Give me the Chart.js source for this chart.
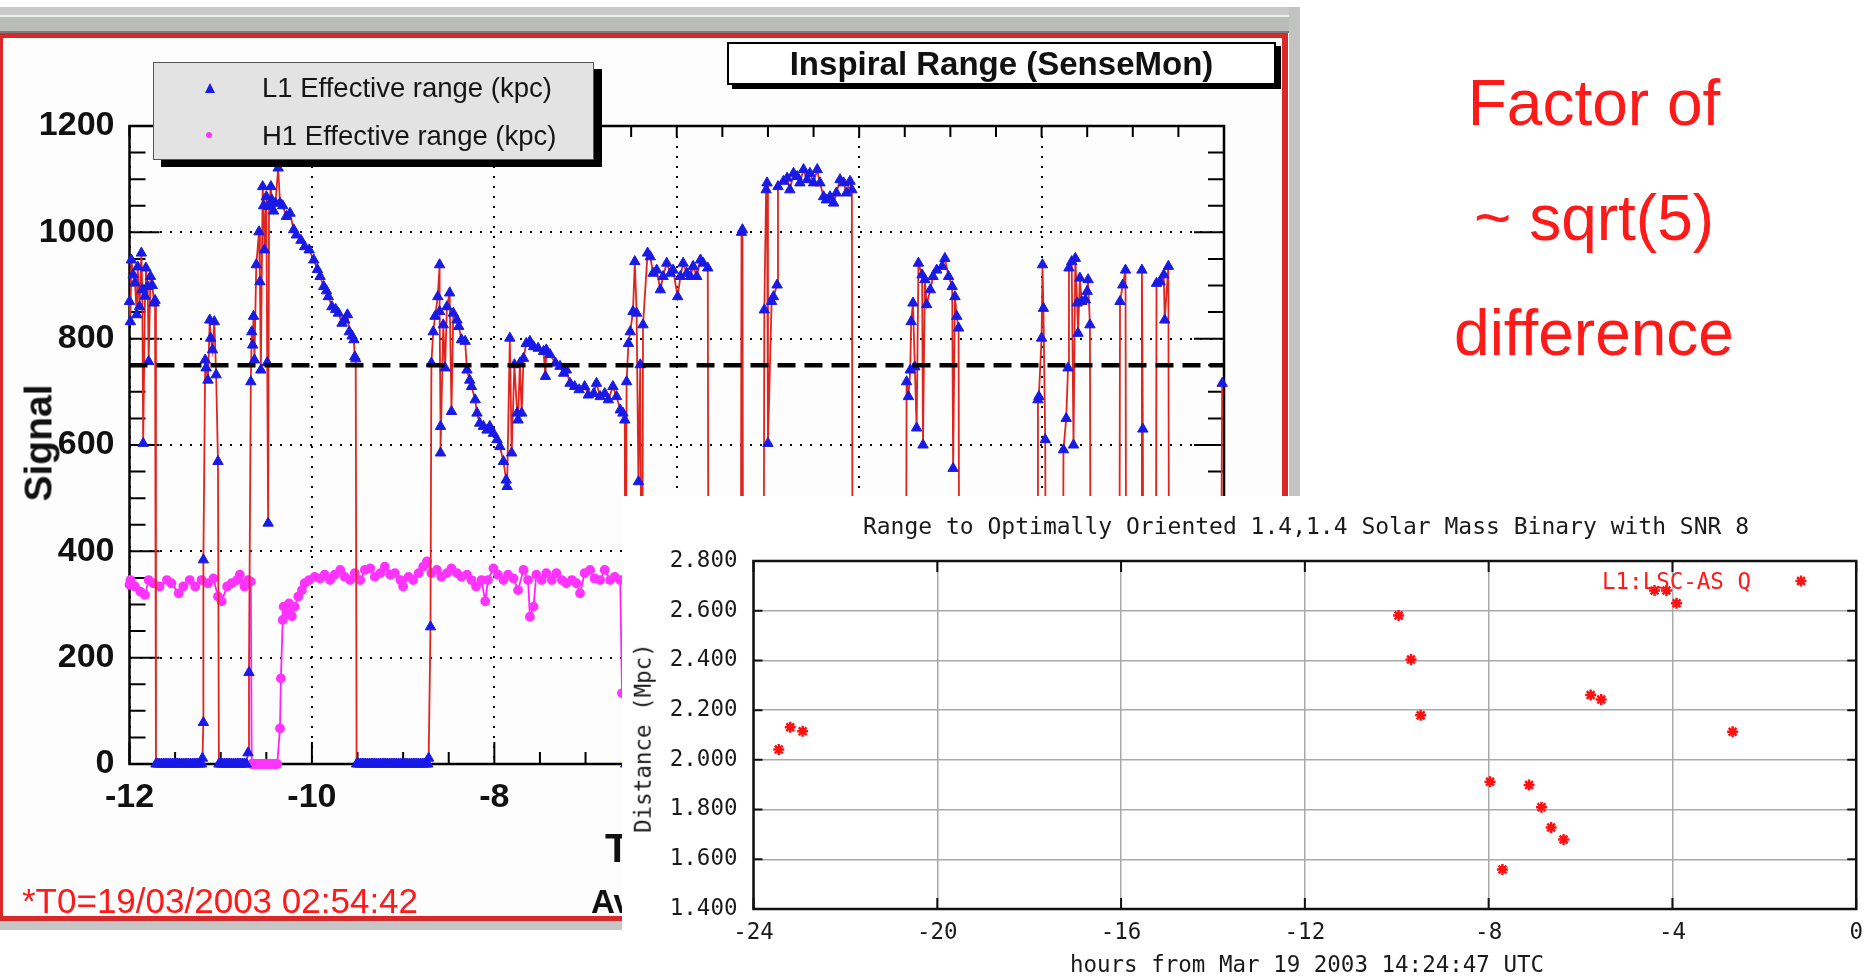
<!DOCTYPE html>
<html>
<head>
<meta charset="utf-8">
<script src="https://cdn.jsdelivr.net/npm/chart.js@4.4.1/dist/chart.umd.min.js"></script>
<style>
  body { margin:0; width:1874px; height:980px; background:#fff; overflow:hidden; position:relative;
         font-family:"Liberation Sans", Arial, sans-serif; }
  .abs { position:absolute; box-sizing:border-box; }
  .t { position:absolute; white-space:nowrap; line-height:1; }
  #topbar { left:0; top:7px; width:1300px; height:26px;
            background:linear-gradient(#c9c9c9 0 8px, #ececec 8px 10px, #babdba 10px 24px, #7a7a7a 24px 26px); }
  #frame { left:0; top:33px; width:1288px; height:888px; border-style:solid; border-color:#d8282a;
           border-width:5px 6px 5px 3px; background:#fdfdfd; }
  #rightbar { left:1289px; top:7px; width:11px; height:923px; background:#c3c3c3; }
  #bottombar { left:0; top:921px; width:1300px; height:9px; background:#c6c6c6; }
  #c1 { position:absolute; left:0; top:0; }
  #legend { left:153px; top:62px; width:441px; height:98px; border:1.5px solid #555; background:#e3e3e3;
            box-shadow:8px 7px 0 #000; }
  #legend .t { font-size:27.5px; color:#151515; }
  #tri { position:absolute; left:51px; top:20px; width:0; height:0; border-left:5.5px solid transparent;
         border-right:5.5px solid transparent; border-bottom:10px solid #1a1ae6; }
  #dot { position:absolute; left:52px; top:69px; width:6px; height:6px; border-radius:50%; background:#ff33ff; }
  #titlebox { left:727px; top:42px; width:549px; height:43px; border:2px solid #000; background:#fff;
              box-shadow:5px 4px 0 #000; display:flex; align-items:center; justify-content:center;
              font-weight:bold; font-size:33px; line-height:1; color:#111; }
  #inset { left:622px; top:496px; width:1252px; height:484px; background:#fff; }
  #c2 { position:absolute; left:0; top:0; }
  .mono { font-family:"DejaVu Sans Mono", "Liberation Mono", monospace; font-size:22.5px; color:#1a1a1a; }
  .note { font-size:64px; color:#ff1a1a; transform:translateX(-50%); left:1594px; }
</style>
</head>
<body>
<div id="topbar" class="abs"></div>
<div id="frame" class="abs"></div>
<div id="rightbar" class="abs"></div>
<div id="bottombar" class="abs"></div>
<canvas id="c1" width="1300" height="932"></canvas>

<div id="legend" class="abs">
  <div id="tri"></div>
  <div class="t" style="left:108px; top:11px;">L1 Effective range (kpc)</div>
  <div id="dot"></div>
  <div class="t" style="left:108px; top:59px;">H1 Effective range (kpc)</div>
</div>
<div id="titlebox" class="abs">Inspiral Range (SenseMon)</div>

<div class="t" style="left:38px; top:443px; font-size:39px; font-weight:bold; color:#111; transform:translate(-50%,-50%) rotate(-90deg);">Signal</div>
<div class="t" style="left:605px; top:828px; font-size:40px; font-weight:bold; color:#111;">Time</div>
<div class="t" style="left:591px; top:885px; font-size:33px; font-weight:bold; color:#111;">Average</div>
<div class="t" style="left:22px; top:883px; font-size:35px; color:#ff1a1a;">*T0=19/03/2003 02:54:42</div>

<div id="inset" class="abs">
  <canvas id="c2" width="1252" height="484"></canvas>
  <div class="t mono" style="left:684px; top:19px; font-size:23px; transform:translateX(-50%);">Range to Optimally Oriented 1.4,1.4 Solar Mass Binary with SNR 8</div>
  <div class="t mono" style="left:685px; top:457px; transform:translateX(-50%);">hours from Mar 19 2003 14:24:47 UTC</div>
  <div class="t mono" style="left:21px; top:242px; transform:translate(-50%,-50%) rotate(-90deg);">Distance (Mpc)</div>
  <div class="t mono" style="left:980px; top:74px; color:#ff1a1a;">L1:LSC-AS Q</div>
</div>

<div class="t note" style="top:71px;">Factor of</div>
<div class="t note" style="top:186px;">~ sqrt(5)</div>
<div class="t note" style="top:301px;">difference</div>

<script>
// ---- left plot: SenseMon inspiral range, hours relative to T0 ----
const l1Hours = [
  -12.00,-11.99,-11.98,-11.96,-11.94,-11.92,-11.91,-11.89,-11.87,-11.86,-11.85,-11.83,-11.82,-11.80,-11.79,-11.77,-11.75,-11.73,-11.72,
  -11.71,-11.69,-11.67,-11.65,-11.63,-11.61,-11.59,-11.57,-11.55,-11.53,-11.51,-11.49,-11.47,-11.45,-11.43,-11.41,-11.39,-11.37,-11.35,-11.33,-11.31,-11.29,-11.27,-11.25,-11.23,-11.21,
  -11.20,-11.19,-11.19,-11.17,-11.16,-11.14,-11.12,-11.11,-11.09,-11.07,-11.05,-11.03,
  -11.02,-11.00,-10.98,-10.96,-10.94,-10.92,-10.90,-10.88,-10.86,-10.84,-10.82,-10.80,-10.78,-10.76,-10.74,-10.72,
  -10.70,-10.69,-10.67,-10.66,-10.65,-10.64,-10.63,-10.61,-10.58,-10.57,
  -10.56,-10.54,-10.53,-10.52,-10.50,-10.49,-10.48,-10.47,-10.45,-10.44,
  -10.42,-10.40,-10.37,-10.35,-10.32,-10.28,-10.24,-10.20,-10.17,-10.12,
  -10.08,-10.03,-9.98,-9.94,-9.91,-9.87,-9.84,-9.82,-9.78,-9.74,
  -9.71,-9.67,-9.64,-9.61,-9.59,-9.56,-9.54,-9.53,-9.52,
  -9.51,-9.49,-9.47,-9.45,-9.43,-9.41,-9.39,-9.37,-9.35,-9.33,
  -9.31,-9.29,-9.27,-9.25,-9.23,-9.21,-9.19,-9.17,-9.15,-9.13,
  -9.11,-9.09,-9.07,-9.05,-9.03,-9.01,-8.99,-8.97,-8.95,-8.93,
  -8.91,-8.89,-8.87,-8.85,-8.83,-8.81,-8.79,-8.77,-8.75,-8.73,
  -8.72,-8.70,-8.69,-8.67,-8.65,-8.62,-8.60,-8.60,-8.59,-8.59,
  -8.56,-8.54,-8.52,-8.49,-8.47,-8.45,-8.41,-8.39,-8.36,-8.32,
  -8.30,-8.27,-8.25,-8.21,-8.19,-8.16,-8.12,-8.08,-8.05,-8.01,
  -7.97,-7.94,-7.90,-7.87,-7.86,-7.83,-7.81,-7.78,-7.75,-7.74,
  -7.72,-7.70,-7.68,-7.65,-7.61,-7.57,-7.52,-7.46,-7.44,-7.43,
  -7.39,-7.33,-7.28,-7.24,-7.21,-7.17,-7.12,-7.07,-7.01,-6.97,
  -6.91,-6.88,-6.84,-6.79,-6.75,-6.70,-6.66,-6.62,-6.59,-6.57,
  -6.56,-6.55,-6.53,-6.51,-6.48,-6.46,-6.44,-6.42,-6.40,-6.38,
  -6.37,-6.32,-6.29,-6.26,-6.22,-6.18,-6.15,-6.11,-6.07,-6.04,
  -5.99,-5.96,-5.93,-5.89,-5.85,-5.82,-5.78,-5.74,-5.71,-5.66,-5.65,
  -5.30,-5.29,-5.28,-5.27,
  -5.05,-5.04,-5.02,-5.01,-5.00,-4.96,-4.94,-4.90,-4.89,-4.83,
  -4.79,-4.76,-4.72,-4.68,-4.65,-4.61,-4.57,-4.54,-4.50,-4.46,
  -4.43,-4.39,-4.36,-4.32,-4.28,-4.25,-4.21,-4.17,-4.14,-4.10,-4.08,-4.07,
  -3.49,-3.48,-3.46,-3.44,-3.43,-3.41,-3.39,-3.37,-3.35,-3.31,
  -3.30,-3.28,-3.26,-3.22,-3.19,-3.15,-3.09,-3.06,-3.02,-2.98,
  -2.97,-2.95,-2.93,-2.91,-2.90,
  -2.05,-2.04,-2.03,-2.00,-1.99,-1.98,-1.96,-1.95,
  -1.77,-1.76,-1.73,-1.71,-1.70,-1.67,-1.65,-1.63,-1.61,-1.60,
  -1.58,-1.56,-1.52,-1.50,-1.49,-1.47,-1.46,
  -1.15,-1.14,-1.11,-1.08,-1.07,
  -0.91,-0.90,-0.89,-0.88,
  -0.75,-0.74,-0.70,-0.66,-0.65,-0.61,-0.60,
  -0.04,-0.02
];
const l1Range = [
  870,832,948,920,905,845,935,860,961,892,603,880,933,898,757,917,900,867,872,
  0,0,0,0,0,0,0,0,0,0,0,0,0,0,0,0,0,0,0,0,0,0,0,0,0,0,
  11,78,384,760,745,722,835,801,779,832,732,569,
  0,0,0,0,0,0,0,0,0,0,0,0,0,0,0,0,
  21,172,719,813,788,842,760,939,1001,907,
  741,1086,1050,967,1067,755,453,1049,1086,1061,
  1040,1055,1121,1055,1050,1030,1036,1005,995,985,
  973,967,948,930,917,898,890,879,860,855,
  848,829,835,845,813,805,798,766,762,
  0,0,0,0,0,0,0,0,0,0,
  0,0,0,0,0,0,0,0,0,0,
  0,0,0,0,0,0,0,0,0,0,
  0,0,0,0,0,0,0,0,0,0,
  11,258,754,813,842,879,939,851,635,585,
  826,745,860,886,663,848,835,823,798,795,
  741,722,710,685,660,641,635,628,635,622,
  610,597,569,534,522,801,585,751,660,647,
  754,660,763,791,795,785,782,776,729,779,
  770,754,748,735,741,716,710,704,710,694,
  697,716,691,697,685,710,691,666,660,647,
  0,719,791,813,851,945,848,531,751,0,
  826,961,954,923,929,892,917,942,923,929,
  879,917,942,923,917,936,917,948,942,933,0,
  0,1000,1005,0,
  0,854,1080,1093,603,870,879,901,1086,1096,
  1102,1080,1111,1105,1093,1118,1099,1111,1093,1118,
  1093,1067,1061,1067,1055,1074,1099,1093,1074,1096,1080,0,
  0,719,691,741,832,867,747,632,942,920,
  600,911,864,892,917,929,936,951,917,898,
  556,879,842,820,0,
  0,685,691,801,939,857,610,0,
  0,591,650,745,933,945,600,951,867,810,
  914,870,873,889,911,826,0,
  0,870,901,929,0,
  0,929,630,0,
  0,904,907,920,835,936,0,
  0,716
];
const h1Hours = [
  -12.00,-11.99,-11.94,-11.88,-11.83,-11.79,-11.74,-11.67,-11.59,-11.54,
  -11.46,-11.41,-11.34,-11.28,-11.21,-11.14,-11.08,-11.03,-10.99,-10.93,
  -10.88,-10.82,-10.79,-10.74,-10.70,-10.67,
  -10.66,-10.64,-10.62,-10.60,-10.58,-10.56,-10.54,-10.52,-10.50,-10.48,-10.46,-10.44,-10.42,-10.40,-10.38,
  -10.35,-10.34,-10.32,-10.31,-10.28,-10.25,-10.22,-10.19,
  -10.15,-10.11,-10.08,-10.03,-9.97,-9.91,-9.86,-9.80,-9.75,-9.69,
  -9.64,-9.58,-9.53,-9.47,-9.42,-9.36,-9.31,-9.25,-9.20,-9.14,
  -9.09,-9.03,-9.00,-8.94,-8.89,-8.83,-8.78,-8.74,-8.69,-8.63,
  -8.58,-8.52,-8.47,-8.41,-8.36,-8.30,-8.25,-8.20,-8.14,-8.10,
  -8.07,-8.01,-7.96,-7.90,-7.85,-7.79,-7.74,-7.68,-7.63,-7.61,
  -7.57,-7.54,-7.48,-7.43,-7.37,-7.32,-7.26,-7.21,-7.15,-7.10,
  -7.06,-7.01,-6.95,-6.90,-6.84,-6.79,-6.73,-6.68,-6.62,-6.60
];
const h1Range = [
  337,346,334,324,318,346,340,334,346,340,
  321,334,346,334,346,340,349,315,306,334,
  340,346,356,334,346,343,
  0,0,0,0,0,0,0,0,0,0,0,0,0,0,0,
  67,161,271,296,284,302,278,296,
  315,327,340,346,352,349,356,346,356,365,
  352,346,359,346,365,368,352,359,371,356,
  359,346,334,352,346,359,371,381,359,365,
  352,359,368,359,352,356,346,334,346,306,
  346,368,356,346,356,349,327,365,346,277,
  296,356,346,359,346,359,346,340,346,340,
  321,359,365,349,346,365,346,352,346,133
];
const thresholdRange = 750;
const senseTicksX = [-12, -10, -8, -6, -4, -2, 0];
const senseTicksY = [0, 200, 400, 600, 800, 1000, 1200];

// ---- inset: gnuplot range plot ----
const snrHours = [-23.45, -23.20, -22.93, -9.96, -9.69, -9.48, -7.97, -7.70, -7.12, -6.85, -6.64, -6.37, -5.78, -5.55, -4.39, -4.13, -3.91, -2.69];
const snrDistance = [2.042, 2.131, 2.115, 2.581, 2.404, 2.179, 1.912, 1.559, 1.899, 1.809, 1.728, 1.680, 2.261, 2.243, 2.681, 2.681, 2.630, 2.113];
const rangeTicksX = [-24, -20, -16, -12, -8, -4, 0];
const rangeTicksY = [1.4, 1.6, 1.8, 2.0, 2.2, 2.4, 2.6, 2.8];

Chart.defaults.font.family = '"Liberation Sans", Arial, sans-serif';
Chart.defaults.color = '#111';

function pairs(xs, ys) {
  return xs.map((x, i) => ({ x: x, y: ys[i] }));
}

// ROOT style frame with inner ticks on all four sides
const rootAxes = {
  id: 'rootAxes',
  beforeDatasetsDraw(chart) {
    const { ctx, chartArea: a, scales } = chart;
    const xs = scales.x, ys = scales.y;
    ctx.save();
    ctx.strokeStyle = '#000';
    ctx.lineWidth = 2;
    ctx.beginPath();
    for (let v = ys.min; v <= ys.max; v += 50) {
      const py = ys.getPixelForValue(v);
      const len = v % 200 === 0 ? 30 : 16;
      ctx.moveTo(a.left, py); ctx.lineTo(a.left + len, py);
      ctx.moveTo(a.right, py); ctx.lineTo(a.right - len, py);
    }
    for (let h = xs.min; h <= xs.max + 1e-6; h += 0.5) {
      const px = xs.getPixelForValue(h);
      const major = Math.abs(h % 2) < 1e-6;
      ctx.moveTo(px, a.bottom); ctx.lineTo(px, a.bottom - (major ? 22 : 12));
      ctx.moveTo(px, a.top); ctx.lineTo(px, a.top + 11);
    }
    ctx.stroke();
    ctx.lineWidth = 2.5;
    ctx.strokeRect(a.left, a.top, a.right - a.left, a.bottom - a.top);
    ctx.restore();
  }
};

new Chart(document.getElementById('c1'), {
  type: 'line',
  data: {
    datasets: [
      {
        label: 'threshold',
        data: [{ x: senseTicksX[0], y: thresholdRange }, { x: senseTicksX[senseTicksX.length - 1], y: thresholdRange }],
        borderColor: '#000',
        borderWidth: 4.5,
        borderDash: [18, 9],
        pointRadius: 0,
        order: 0
      },
      {
        label: 'L1 Effective range (kpc)',
        data: pairs(l1Hours, l1Range),
        borderColor: '#e0251e',
        borderWidth: 1.8,
        pointStyle: 'triangle',
        pointRadius: 6,
        pointBackgroundColor: '#1a1ae6',
        pointBorderColor: '#1a1ae6',
        pointBorderWidth: 1,
        clip: false,
        order: 1
      },
      {
        label: 'H1 Effective range (kpc)',
        data: pairs(h1Hours, h1Range),
        borderColor: '#ff22ff',
        borderWidth: 1.8,
        pointStyle: 'circle',
        pointRadius: 4,
        pointBackgroundColor: '#ff33ff',
        pointBorderColor: '#ff33ff',
        clip: false,
        order: 2
      }
    ]
  },
  options: {
    responsive: false,
    animation: false,
    devicePixelRatio: 1,
    events: [],
    layout: { padding: { top: 126, right: 76, bottom: 108, left: 0 } },
    plugins: { legend: { display: false }, tooltip: { enabled: false } },
    scales: {
      x: {
        type: 'linear',
        min: -12,
        max: 0,
        afterBuildTicks: s => { s.ticks = senseTicksX.map(v => ({ value: v })); },
        afterFit: s => { s.height = 60; },
        ticks: { callback: v => String(v), font: { size: 34, weight: 'bold' }, color: '#111', padding: 13, maxRotation: 0 },
        grid: { color: '#000', lineWidth: 2, drawTicks: false },
        border: { display: false, dash: [2, 8] }
      },
      y: {
        min: 0,
        max: 1200,
        afterBuildTicks: s => { s.ticks = senseTicksY.map(v => ({ value: v })); },
        afterFit: s => { s.width = 129.5; },
        ticks: { callback: v => String(v), font: { size: 34, weight: 'bold' }, color: '#111', padding: 15 },
        grid: { color: '#000', lineWidth: 2, drawTicks: false },
        border: { display: false, dash: [2, 8] }
      }
    }
  },
  plugins: [rootAxes]
});

// gnuplot style frame, inner ticks and key sample
function drawStar(ctx, x, y, r) {
  for (let k = 0; k < 4; k++) {
    const ang = k * Math.PI / 4;
    ctx.moveTo(x - r * Math.cos(ang), y - r * Math.sin(ang));
    ctx.lineTo(x + r * Math.cos(ang), y + r * Math.sin(ang));
  }
}
const gnuAxes = {
  id: 'gnuAxes',
  beforeDatasetsDraw(chart) {
    const { ctx, chartArea: a, scales } = chart;
    ctx.save();
    ctx.strokeStyle = '#111';
    ctx.lineWidth = 2;
    ctx.beginPath();
    rangeTicksY.forEach(v => {
      const py = scales.y.getPixelForValue(v);
      ctx.moveTo(a.left, py); ctx.lineTo(a.left + 9, py);
      ctx.moveTo(a.right, py); ctx.lineTo(a.right - 9, py);
    });
    rangeTicksX.forEach(v => {
      const px = scales.x.getPixelForValue(v);
      ctx.moveTo(px, a.top); ctx.lineTo(px, a.top + 11);
      ctx.moveTo(px, a.bottom); ctx.lineTo(px, a.bottom - 11);
    });
    ctx.stroke();
    ctx.lineWidth = 2.5;
    ctx.strokeRect(a.left, a.top, a.right - a.left, a.bottom - a.top);
    ctx.restore();
  },
  afterDraw(chart) {
    const ctx = chart.ctx;
    ctx.save();
    ctx.strokeStyle = '#ff1010';
    ctx.lineWidth = 2.5;
    ctx.beginPath();
    drawStar(ctx, 1179, 85, 5.5);
    ctx.stroke();
    ctx.restore();
  }
};

const monoFont = { family: '"DejaVu Sans Mono", "Liberation Mono", monospace', size: 22.5 };

new Chart(document.getElementById('c2'), {
  type: 'scatter',
  data: {
    datasets: [{
      label: 'L1:LSC-AS Q',
      data: pairs(snrHours, snrDistance),
      pointStyle: 'star',
      pointRadius: 5.5,
      borderColor: '#ff1010',
      backgroundColor: '#ff1010',
      borderWidth: 2.5
    }]
  },
  options: {
    responsive: false,
    animation: false,
    devicePixelRatio: 1,
    events: [],
    layout: { padding: { top: 65, right: 12, bottom: 31, left: 0 } },
    plugins: { legend: { display: false }, tooltip: { enabled: false } },
    scales: {
      x: {
        type: 'linear',
        min: -24,
        max: 0,
        afterBuildTicks: s => { s.ticks = rangeTicksX.map(v => ({ value: v })); },
        afterFit: s => { s.height = 40; },
        ticks: { callback: v => String(v), font: monoFont, color: '#1a1a1a', padding: 11, maxRotation: 0 },
        grid: { color: '#a9a9a9', lineWidth: 1.5, drawTicks: false },
        border: { display: false }
      },
      y: {
        min: 1.4,
        max: 2.8,
        afterBuildTicks: s => { s.ticks = rangeTicksY.map(v => ({ value: v })); },
        afterFit: s => { s.width = 131.5; },
        ticks: { callback: v => Number(v).toFixed(3), font: monoFont, color: '#1a1a1a', padding: 16 },
        grid: { color: '#a9a9a9', lineWidth: 1.5, drawTicks: false },
        border: { display: false }
      }
    }
  },
  plugins: [gnuAxes]
});
</script>
</body>
</html>
